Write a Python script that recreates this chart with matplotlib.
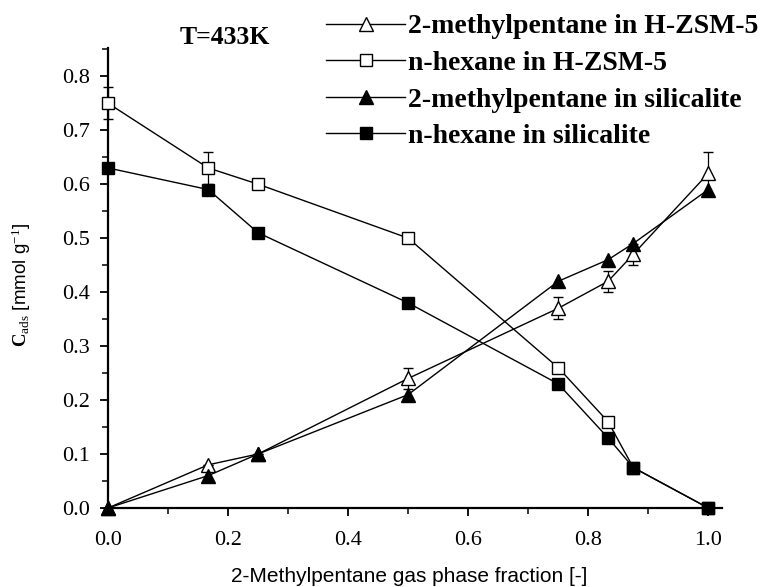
import matplotlib
matplotlib.use("Agg")
import matplotlib.pyplot as plt
from matplotlib.ticker import MultipleLocator, FormatStrFormatter

# Gas-phase fraction of 2-methylpentane
x = [0.0, 0.167, 0.25, 0.5, 0.75, 0.833, 0.875, 1.0]

# Adsorbed amounts [mmol/g]
mp_hzsm5 = [0.0, 0.08, 0.10, 0.24, 0.37, 0.42, 0.47, 0.62]
mp_hzsm5_err = [0.0, 0.0, 0.0, 0.02, 0.02, 0.02, 0.02, 0.04]
hex_hzsm5 = [0.75, 0.63, 0.60, 0.50, 0.26, 0.16, 0.075, 0.0]
hex_hzsm5_err = [0.03, 0.03, 0.0, 0.0, 0.0, 0.0, 0.0, 0.0]
mp_sil = [0.0, 0.06, 0.10, 0.21, 0.42, 0.46, 0.49, 0.59]
hex_sil = [0.63, 0.59, 0.51, 0.38, 0.23, 0.13, 0.075, 0.0]

labels = ["2-methylpentane in H-ZSM-5", "n-hexane in H-ZSM-5",
          "2-methylpentane in silicalite", "n-hexane in silicalite"]
x_ticks = [0.0, 0.2, 0.4, 0.6, 0.8, 1.0]
y_ticks = [0.0, 0.1, 0.2, 0.3, 0.4, 0.5, 0.6, 0.7, 0.8]

plt.rcParams["mathtext.fontset"] = "custom"
plt.rcParams["mathtext.rm"] = "Liberation Serif"
plt.rcParams["mathtext.bf"] = "Liberation Serif:bold"
plt.rcParams["mathtext.it"] = "Liberation Serif:italic"

fig = plt.figure(figsize=(7.69, 5.87), dpi=100)
ax = fig.add_axes([0.1404, 0.1346, 0.939 - 0.1404, 0.918 - 0.1346])

lw = 1.0
common = dict(color="black", lw=lw, clip_on=False, mec="black", mew=1.0)
eb = dict(ecolor="black", elinewidth=0.9, capsize=3.6, capthick=0.9)

h1 = ax.errorbar(x, mp_hzsm5, yerr=mp_hzsm5_err, marker="^", ms=10,
                 mfc="white", zorder=3, **common, **eb)
h2 = ax.errorbar(x, hex_hzsm5, yerr=hex_hzsm5_err, marker="s", ms=9,
                 mfc="white", zorder=3, **common, **eb)
h3, = ax.plot(x, mp_sil, marker="^", ms=10, mfc="black", zorder=4, **common)
h4, = ax.plot(x, hex_sil, marker="s", ms=9, mfc="black", zorder=4, **common)
for h in (h1, h2):
    for part in h.lines[1] + h.lines[2]:
        part.set_clip_on(False)

ax.set_xlim(0, 1.023)
ax.set_ylim(0, 0.852)
ax.set_xticks(x_ticks)
ax.set_yticks(y_ticks)
ax.xaxis.set_minor_locator(MultipleLocator(0.1))
ax.yaxis.set_minor_locator(MultipleLocator(0.05))
ax.xaxis.set_major_formatter(FormatStrFormatter("%.1f"))
ax.yaxis.set_major_formatter(FormatStrFormatter("%.1f"))

for s in ("top", "right"):
    ax.spines[s].set_visible(False)
for s in ("left", "bottom"):
    ax.spines[s].set_linewidth(1.6)

ax.tick_params(which="major", direction="out", length=6, width=1.3,
               labelsize=16)
ax.tick_params(axis="x", which="major", pad=10.5)
ax.tick_params(axis="y", which="major", pad=7)
ax.tick_params(which="minor", direction="out", length=4, width=1.1)
for lab in ax.get_xticklabels() + ax.get_yticklabels():
    lab.set_fontfamily("Liberation Serif")

# Legend handles without error bars
leg_handles = [
    plt.Line2D([], [], color="black", lw=lw, marker="^", ms=10, mfc="white", mec="black"),
    plt.Line2D([], [], color="black", lw=lw, marker="s", ms=9, mfc="white", mec="black"),
    plt.Line2D([], [], color="black", lw=lw, marker="^", ms=10, mfc="black", mec="black"),
    plt.Line2D([], [], color="black", lw=lw, marker="s", ms=9, mfc="black", mec="black"),
]
fig.legend(leg_handles, labels, loc="upper left",
           bbox_to_anchor=(326 / 769, 1 - 14 / 587), frameon=False,
           prop={"family": "Liberation Serif", "weight": "bold", "size": 20},
           handlelength=2.85, handletextpad=0.1, labelspacing=0.40,
           borderaxespad=0, borderpad=0)

fig.text(225 / 769, 1 - 37 / 587, "T=433K", ha="center", va="center",
         family="Liberation Serif", weight="bold", fontsize=18.5)

fig.text(409 / 769, 1 - 576 / 587, "2-Methylpentane gas phase fraction [-]",
         ha="center", va="center", family="Liberation Sans", fontsize=15)

fig.text(21 / 769, 1 - 285 / 587,
         r"$\mathbf{C}_{\mathrm{ads}}$ [mmol g$^{\mathrm{-1}}$]",
         ha="center", va="center", rotation=90,
         family="Liberation Sans", fontsize=13.5)

fig.savefig("out.png", dpi=100)
